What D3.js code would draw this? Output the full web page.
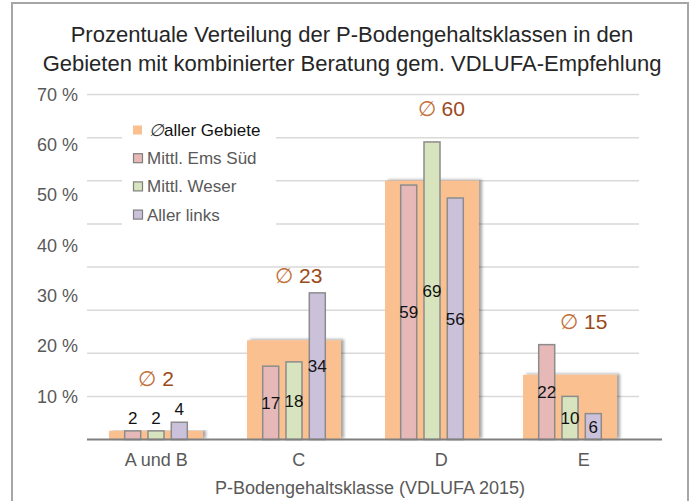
<!DOCTYPE html>
<html>
<head>
<meta charset="utf-8">
<script src="https://cdn.jsdelivr.net/npm/d3@7"></script>
<style>
  html, body { margin: 0; padding: 0; background: #fff; }
  svg { display: block; font-family: "Liberation Sans", Arial, sans-serif; }
</style>
</head>
<body>
<svg id="chart" width="691" height="501"></svg>
<script>
// P-Bodengehaltsklassen (VDLUFA 2015), Anteile in %
const categories = ["A und B", "C", "D", "E"];
const seriesNames = ["Mittl. Ems Süd", "Mittl. Weser", "Aller links"];
const avgAll     = [2, 23, 60, 15];   // Ø aller Gebiete
const emsSued    = [2, 17, 59, 22];   // Mittl. Ems Süd
const weser      = [2, 18, 69, 10];   // Mittl. Weser
const allerLinks = [4, 34, 56, 6];    // Aller links
const yTickLabels = [70, 60, 50, 40, 30, 20, 10];
const titleLines = [
  "Prozentuale Verteilung der P-Bodengehaltsklassen in den",
  "Gebieten mit kombinierter Beratung gem. VDLUFA-Empfehlung"
];
const xTitle = "P-Bodengehaltsklasse (VDLUFA 2015)";
const avgLegend = "aller Gebiete";

const seriesValues = [emsSued, weser, allerLinks];
const seriesFill = ["#e6b9b8", "#d7e4bd", "#ccc1da"];
const avgFill = "#fac090";

const svg = d3.select("#chart");

// shadow under the wide average bars
const defs = svg.append("defs");
defs.append("filter").attr("id", "barShadow")
  .attr("x", "-10%").attr("y", "-10%").attr("width", "130%").attr("height", "120%")
  .append("feDropShadow")
  .attr("dx", 3).attr("dy", -1).attr("stdDeviation", 1.4)
  .attr("flood-color", "#000").attr("flood-opacity", 0.35);

// outer frame
svg.append("rect")
  .attr("x", 12).attr("y", 3).attr("width", 676).attr("height", 520)
  .attr("fill", "#fff").attr("stroke", "#a6a6a6").attr("stroke-width", 2);

// title
svg.append("g").selectAll("text").data(titleLines).join("text")
  .attr("x", 352).attr("y", (d, i) => 42 + i * 29)
  .attr("text-anchor", "middle")
  .attr("font-size", 22).attr("fill", "#262626")
  .text(d => d);

// scales
const y = d3.scaleLinear().domain([0, 80]).range([439.5, 94.5]);
const x = d3.scaleBand().domain(categories).range([87, 639]).padding(0);
const xs = d3.scaleBand().domain(seriesNames).range([-31.3, 31.3]).paddingInner(0.313);
const xLabel = d3.scaleBand().domain(categories).range([85, 655]).padding(0);
const yLabel = d3.scaleLinear().domain([10, 70]).range([y(10), y(80)]);

// gridlines
svg.append("g").selectAll("line").data(y.ticks(8).filter(v => v > 0)).join("line")
  .attr("x1", 87).attr("x2", 639)
  .attr("y1", d => y(d)).attr("y2", d => y(d))
  .attr("stroke", "#d9d9d9").attr("stroke-width", 1.5);

// y tick labels
const yAxis = d3.axisLeft(yLabel).tickValues(yTickLabels).tickSize(0).tickPadding(0)
  .tickFormat(d => d + " %");
const gy = svg.append("g").attr("transform", "translate(78,0)").call(yAxis);
gy.select(".domain").remove();
gy.selectAll("text").attr("font-size", 18).attr("fill", "#595959")
  .attr("font-family", "Liberation Sans, Arial, sans-serif");

// average bars
const avgW = 94;
svg.append("g").selectAll("rect").data(categories).join("rect")
  .attr("x", d => x(d) + x.bandwidth() / 2 - avgW / 2)
  .attr("y", (d, i) => y(avgAll[i]))
  .attr("width", avgW)
  .attr("height", (d, i) => y(0) - y(avgAll[i]))
  .attr("fill", avgFill)
  .attr("filter", "url(#barShadow)");

// regional bars
const groups = svg.append("g").selectAll("g").data(categories).join("g")
  .attr("transform", d => `translate(${x(d) + x.bandwidth() / 2},0)`);
groups.selectAll("rect")
  .data((c, ci) => seriesNames.map((s, si) => ({ s, si, v: seriesValues[si][ci] })))
  .join("rect")
  .attr("x", d => xs(d.s))
  .attr("y", d => y(d.v))
  .attr("width", xs.bandwidth())
  .attr("height", d => y(0) - y(d.v))
  .attr("fill", d => seriesFill[d.si])
  .attr("stroke", "#8c8c8c").attr("stroke-width", 1.5);

// value labels: centred in the bar, above it when the bar is too short
groups.selectAll("text")
  .data((c, ci) => seriesNames.map((s, si) => ({ s, si, v: seriesValues[si][ci] })))
  .join("text")
  .attr("x", d => xs(d.s) + xs.bandwidth() / 2)
  .attr("y", d => d.v < 5 ? y(d.v) - 7 : (y(d.v) + y(0)) / 2 + 6)
  .attr("text-anchor", "middle")
  .attr("font-size", 17).attr("fill", "#111")
  .text(d => d.v);

// baseline
svg.append("line")
  .attr("x1", 87).attr("x2", 662).attr("y1", y(0)).attr("y2", y(0))
  .attr("stroke", "#7f7f7f").attr("stroke-width", 2);

// category labels
const xAxis = d3.axisBottom(xLabel).tickSize(0).tickPadding(0);
const gx = svg.append("g").attr("transform", `translate(0,${y(0) + 26})`).call(xAxis);
gx.select(".domain").remove();
gx.selectAll("text").attr("font-size", 18).attr("fill", "#595959")
  .attr("font-family", "Liberation Sans, Arial, sans-serif").attr("dy", 0);

// axis title
svg.append("text")
  .attr("x", 370).attr("y", 494)
  .attr("text-anchor", "middle")
  .attr("font-size", 18).attr("fill", "#595959")
  .text(xTitle);

// average captions (Ø value); level in % where each caption sits
const avgLabelAt = [14.3, 38.2, 76.9, 27.4];
const cap = svg.append("g").selectAll("text").data(categories).join("text")
  .attr("x", d => xLabel(d) + xLabel.bandwidth() / 2)
  .attr("y", (d, i) => y(avgLabelAt[i]) + 8)
  .attr("text-anchor", "middle")
  .attr("font-size", 21);
cap.append("tspan").attr("fill", "#c0703a").text("∅ ");
cap.append("tspan").attr("fill", "#9b4a1c").text((d, i) => avgAll[i]);

// legend
const legend = svg.append("g");
legend.append("rect")
  .attr("x", 122).attr("y", 108).attr("width", 154).attr("height", 144)
  .attr("fill", "#fff");
const legendItems = [
  { label: avgLegend, fill: avgFill, avg: true },
  ...seriesNames.map((s, i) => ({ label: s, fill: seriesFill[i], avg: false }))
];
const li = legend.selectAll("g").data(legendItems).join("g")
  .attr("transform", (d, i) => `translate(133,${130 + i * 28.2})`);
li.append("rect")
  .attr("x", d => d.avg ? 0 : 0.5).attr("y", -4.5)
  .attr("width", 9).attr("height", 9)
  .attr("fill", d => d.fill)
  .attr("stroke", d => d.avg ? "none" : "#7f7f7f").attr("stroke-width", 1.2);
const lt = li.append("text")
  .attr("x", d => d.avg ? 16 : 14).attr("y", 6)
  .attr("font-size", 17)
  .attr("fill", d => d.avg ? "#111" : "#595959");
lt.filter(d => d.avg).append("tspan").attr("font-style", "italic").attr("fill", "#333").text("∅");
lt.append("tspan").text(d => d.label);
</script>
</body>
</html>
